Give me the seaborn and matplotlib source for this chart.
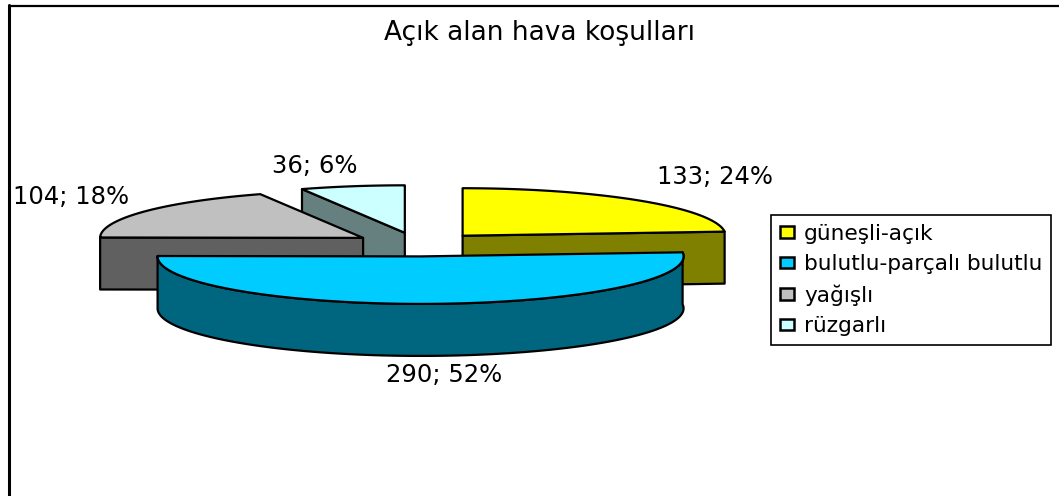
import numpy as np
import matplotlib
matplotlib.use('Agg')
import matplotlib.pyplot as plt
from matplotlib.patches import Patch, Polygon
import seaborn as sns

categories = ['güneşli-açık', 'bulutlu-parçalı bulutlu', 'yağışlı', 'rüzgarlı']
values = [133, 290, 104, 36]
colors = ['#FFFF00', '#00CCFF', '#C0C0C0', '#CCFFFF']
title = 'Açık alan hava koşulları'

sns.set_theme(style='white')
plt.rcParams['font.family'] = ['DejaVu Sans']
plt.rcParams['text.color'] = 'black'
palette = sns.color_palette(colors)

# pie layout in pixels, the axes below use picture coordinates
CX, CY = 418, 244.5
RX, RY = 263, 47.5
EXPLODE = 66
DEPTH = 52
LW = 1.6

fig = plt.figure(figsize=(10.59, 4.96), dpi=100)
ax = fig.add_axes([0, 0, 1, 1])
ax.set_xlim(0, 1059)
ax.set_ylim(496, 0)
ax.axis('off')

# only top and left of the frame are inside the crop
ax.plot([8.5, 1059], [6, 6], color='black', lw=1.6)
ax.plot([8.5, 8.5], [5, 496], color='black', lw=2.2)


def arc(x0, y0, a0, a1):
    t = np.radians(np.linspace(a0, a1, 120))
    return np.column_stack([x0 + RX * np.sin(t), y0 - RY * np.cos(t)])


def face(points, color):
    ax.add_patch(Polygon(points, closed=True, facecolor=color, edgecolor='black', lw=LW, joinstyle='round'))


shares = np.array(values) / sum(values)
ends = np.cumsum(shares) * 360
starts = ends - shares * 360
down = np.array([0, DEPTH])

# back slices first, blue one sits in front of everything
for i in [3, 2, 0, 1]:
    a0, a1 = starts[i], ends[i]
    mid = np.radians((a0 + a1) / 2)
    x0 = CX + EXPLODE * np.sin(mid)
    y0 = CY - EXPLODE * RY / RX * np.cos(mid)
    apex = np.array([x0, y0])
    rim = arc(x0, y0, a0, a1)
    dark = tuple(c * 0.5 for c in palette[i])

    # sides that face the viewer
    if i == 0:
        face([apex, rim[-1], rim[-1] + down, apex + down], dark)
    elif i == 1:
        face(np.vstack([rim, (rim + down)[::-1]]), dark)
    else:
        face([rim[0], apex, apex + down, rim[0] + down], dark)
    face(np.vstack([apex, rim]), palette[i])

    pct = round(shares[i] * 100)
    label_pos = [(715, 177), (444, 375), (71, 197), (315, 166)][i]
    ax.text(label_pos[0], label_pos[1], f'{values[i]}; {pct}%', ha='center', va='center', fontsize=17.5)

ax.text(540, 33, title, ha='center', va='center', fontsize=19)

handles = [Patch(facecolor=palette[i], edgecolor='black', lw=1.8) for i in range(len(categories))]
leg = ax.legend(handles, categories, loc='upper left', bbox_to_anchor=(771 / 1059, 1 - 215 / 496),
                bbox_transform=ax.transAxes, fontsize=15.6, frameon=True, fancybox=False, edgecolor='black',
                framealpha=1, borderpad=0.4, labelspacing=0.48, handlelength=0.68, handleheight=0.45,
                handletextpad=0.45, borderaxespad=0)
leg.get_frame().set_linewidth(1.2)
for t in leg.get_texts():
    t.set_color('black')

fig.savefig('out.png', dpi=100)
